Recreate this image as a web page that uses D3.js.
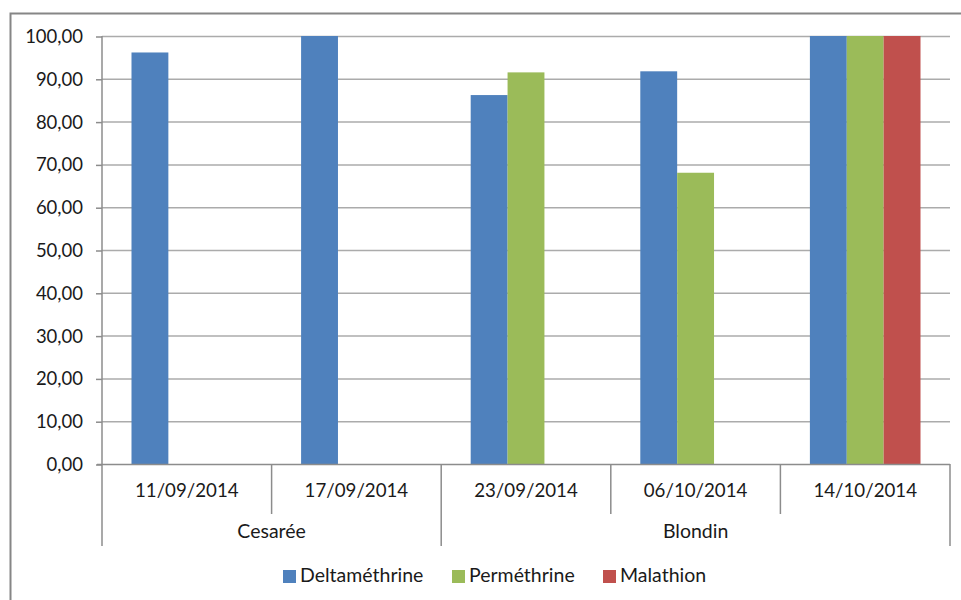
<!DOCTYPE html>
<html>
<head>
<meta charset="utf-8">
<script src="https://cdn.jsdelivr.net/npm/d3@7"></script>
<style>
  html, body { margin: 0; padding: 0; background: #fff; }
  svg { display: block; }
  text { font-family: Lato, "Open Sans", sans-serif; fill: #1a1a1a; }
</style>
</head>
<body>
<svg id="chart" width="961" height="600"></svg>
<script>
// Categories: sampling dates, grouped by site
const dates = ["11/09/2014", "17/09/2014", "23/09/2014", "06/10/2014", "14/10/2014"];
const sites = ["Cesarée", "Cesarée", "Blondin", "Blondin", "Blondin"];
const siteNames = ["Cesarée", "Blondin"];

// Series (null = not tested)
const seriesNames = ["Deltaméthrine", "Perméthrine", "Malathion"];
const deltamethrine = [96.15, 100, 86.2, 91.75, 100];
const permethrine = [null, null, 91.5, 68.05, 100];
const malathion = [null, null, null, null, 100];
const seriesColors = ["#4f81bd", "#9bbb59", "#c0504d"];

const yTicks = [0, 10, 20, 30, 40, 50, 60, 70, 80, 90, 100];

(function draw() {
  const svg = d3.select("#chart");
  const pLeft = 102, pRight = 950, pTop = 36, pBottom = 464;

  // Outer chart frame
  svg.append("rect")
    .attr("x", 10.5).attr("y", 13.5)
    .attr("width", 980).attr("height", 620)
    .attr("fill", "none").attr("stroke", "#868686").attr("stroke-width", 2);

  const y = d3.scaleLinear().domain([0, 100]).range([pBottom, pTop]);
  const x = d3.scaleBand().domain(dates).range([pLeft, pRight]).paddingInner(0).paddingOuter(0);
  const bw = x.bandwidth();
  const barW = bw / 4.6;
  const xs = d3.scaleBand().domain(seriesNames).range([0.8 * barW, 0.8 * barW + 3 * barW]);

  // Horizontal gridlines
  svg.append("g").selectAll("line").data(yTicks.filter(d => d > 0)).join("line")
    .attr("x1", pLeft).attr("x2", pRight)
    .attr("y1", d => y(d) + 0.5).attr("y2", d => y(d) + 0.5)
    .attr("stroke", "#ababab").attr("stroke-width", 1.5);

  // Y axis
  const yAxis = d3.axisLeft(y).tickValues(yTicks).tickSize(6).tickPadding(13)
    .tickFormat(d => d3.format(".2f")(d).replace(".", ","));
  const gy = svg.append("g").attr("transform", `translate(${pLeft},0.5)`).call(yAxis);
  gy.select(".domain").remove();
  gy.selectAll(".tick line").attr("stroke", "#8c8c8c").attr("stroke-width", 1.5);
  gy.selectAll(".tick text").attr("font-size", 18.5).attr("fill", "#1a1a1a")
    .attr("font-family", "Lato, sans-serif");
  svg.append("line").attr("x1", pLeft).attr("x2", pLeft).attr("y1", pTop).attr("y2", pBottom)
    .attr("stroke", "#8c8c8c").attr("stroke-width", 1.5);

  // Bars
  const series = [deltamethrine, permethrine, malathion];
  series.forEach((vals, si) => {
    const rows = dates.map((d, i) => ({ date: d, v: vals[i] })).filter(r => r.v != null);
    svg.append("g").selectAll("rect").data(rows).join("rect")
      .attr("x", r => x(r.date) + xs(seriesNames[si]))
      .attr("y", r => y(r.v))
      .attr("width", barW)
      .attr("height", r => y(0) - y(r.v))
      .attr("fill", seriesColors[si]);
  });

  // X axis baseline
  svg.append("line").attr("x1", pLeft - 5).attr("x2", pRight).attr("y1", pBottom + 0.5).attr("y2", pBottom + 0.5)
    .attr("stroke", "#8c8c8c").attr("stroke-width", 1.5);

  // Category dividers: short between dates of same site, long between sites
  const bounds = d3.range(dates.length + 1).map(i => pLeft + i * bw);
  bounds.forEach((bx, i) => {
    const isSiteEdge = i === 0 || i === dates.length || sites[i] !== sites[i - 1];
    svg.append("line")
      .attr("x1", bx).attr("x2", bx)
      .attr("y1", pBottom).attr("y2", isSiteEdge ? 546 : 514)
      .attr("stroke", "#8c8c8c").attr("stroke-width", 1.5);
  });

  // Date labels
  svg.append("g").selectAll("text").data(dates).join("text")
    .attr("x", d => x(d) + bw / 2).attr("y", 497)
    .attr("text-anchor", "middle").attr("font-size", 18.7)
    .text(d => d);

  // Site labels
  siteNames.forEach(s => {
    const idx = sites.map((v, i) => v === s ? i : -1).filter(i => i >= 0);
    const x0 = x(dates[idx[0]]), x1 = x(dates[idx[idx.length - 1]]) + bw;
    svg.append("text").attr("x", (x0 + x1) / 2).attr("y", 538)
      .attr("text-anchor", "middle").attr("font-size", 19.5).text(s);
  });

  // Legend
  const legendX = [283, 452, 603];
  const lg = svg.append("g");
  seriesNames.forEach((n, i) => {
    lg.append("rect").attr("x", legendX[i]).attr("y", 570).attr("width", 13).attr("height", 13)
      .attr("fill", seriesColors[i]);
    lg.append("text").attr("x", legendX[i] + 17).attr("y", 582).attr("font-size", 19.5).text(n);
  });
})();
</script>
</body>
</html>
